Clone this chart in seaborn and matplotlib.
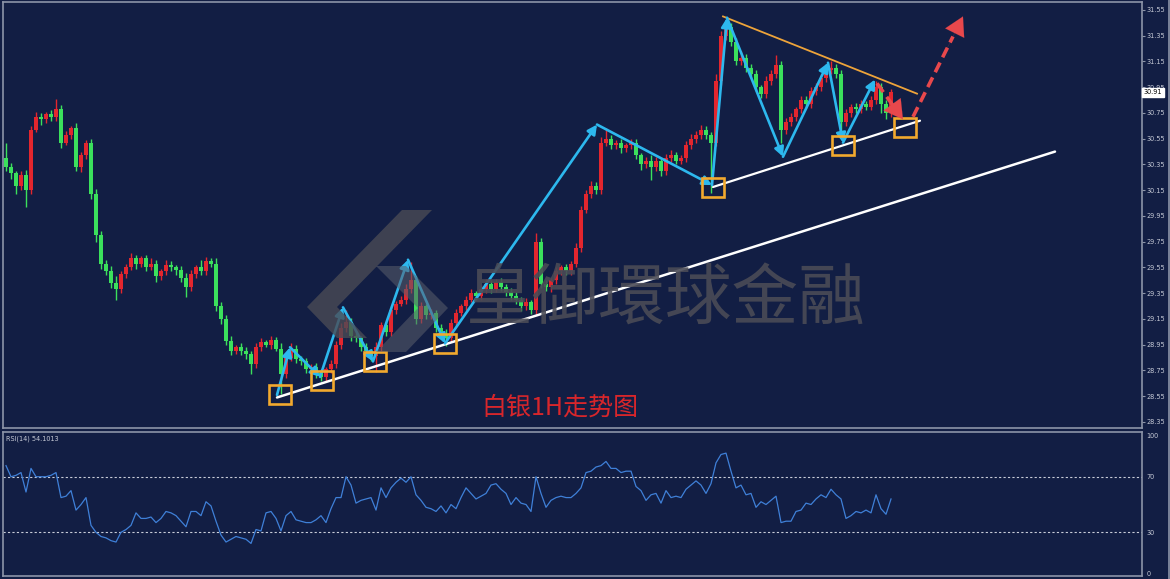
import numpy as np
import seaborn as sns
import matplotlib.pyplot as plt
from matplotlib.patches import Rectangle, Polygon
from matplotlib.lines import Line2D

# ---- data (silver, 1H) ----
first_open = 30.40
closes = [30.33, 30.28, 30.18, 30.27, 30.15, 30.62, 30.72, 30.70, 30.74, 30.72,
          30.78, 30.52, 30.58, 30.63, 30.33, 30.42, 30.52, 30.12, 29.80, 29.58,
          29.52, 29.43, 29.38, 29.50, 29.55, 29.62, 29.58, 29.62, 29.55, 29.58,
          29.48, 29.52, 29.57, 29.55, 29.53, 29.47, 29.40, 29.50, 29.55, 29.52,
          29.60, 29.58, 29.25, 29.15, 28.98, 28.90, 28.93, 28.90, 28.88, 28.80,
          28.93, 28.97, 28.95, 28.99, 28.92, 28.72, 28.85, 28.92, 28.84, 28.82,
          28.76, 28.78, 28.73, 28.70, 28.76, 28.80, 28.95, 29.08, 29.13, 29.02,
          29.00, 28.93, 28.90, 28.86, 28.93, 29.10, 29.05, 29.22, 29.27, 29.30,
          29.38, 29.45, 29.15, 29.25, 29.18, 29.20, 29.08, 29.03, 29.00, 29.12,
          29.20, 29.25, 29.30, 29.35, 29.33, 29.38, 29.42, 29.38, 29.44, 29.40,
          29.36, 29.33, 29.30, 29.25, 29.28, 29.22, 29.75, 29.42, 29.40, 29.45,
          29.52, 29.55, 29.52, 29.58, 29.70, 30.00, 30.12, 30.18, 30.15, 30.52,
          30.55, 30.50, 30.52, 30.48, 30.50, 30.52, 30.42, 30.35, 30.38, 30.33,
          30.38, 30.30, 30.40, 30.42, 30.38, 30.40, 30.50, 30.55, 30.58, 30.62,
          30.58, 30.52, 31.00, 31.35, 31.42, 31.30, 31.15, 31.18, 31.10, 31.05,
          30.95, 30.90, 31.00, 31.05, 31.12, 30.62, 30.68, 30.72, 30.78, 30.85,
          30.82, 30.92, 30.95, 31.02, 31.08, 31.10, 31.05, 30.68, 30.75, 30.80,
          30.78, 30.82, 30.80, 30.85, 30.95, 30.82, 30.75, 30.91]
# wick lengths above / below the body, in cents
wick_up = [12, 3, 2, 3, 4, 3, 4, 3, 2, 3,
           8, 3, 3, 2, 4, 3, 2, 3, 4, 3,
           3, 4, 5, 2, 3, 4, 3, 2, 3, 4,
           3, 2, 4, 3, 2, 3, 4, 3, 2, 6,
           3, 2, 4, 3, 3, 4, 2, 3, 3, 2,
           3, 3, 2, 3, 2, 4, 3, 4, 3, 2,
           3, 2, 3, 3, 2, 3, 3, 4, 9, 3,
           3, 2, 3, 2, 4, 3, 3, 3, 2, 3,
           4, 14, 3, 3, 2, 3, 2, 3, 4, 3,
           3, 2, 3, 3, 2, 3, 4, 3, 2, 3,
           2, 3, 3, 2, 3, 2, 7, 3, 3, 2,
           3, 2, 3, 2, 4, 3, 3, 4, 3, 4,
           8, 3, 2, 3, 2, 3, 3, 2, 3, 4,
           3, 2, 3, 4, 3, 2, 3, 4, 3, 4,
           3, 2, 5, 4, 5, 3, 3, 5, 3, 3,
           3, 2, 4, 3, 8, 3, 3, 3, 2, 3,
           3, 3, 3, 3, 4, 5, 3, 3, 3, 2,
           3, 3, 2, 3, 5, 3, 3, 3]
wick_dn = [3, 4, 6, 3, 13, 3, 2, 4, 3, 3,
           3, 4, 2, 3, 3, 4, 3, 4, 5, 4,
           3, 4, 8, 3, 3, 2, 4, 3, 3, 2,
           4, 3, 3, 3, 4, 3, 8, 3, 3, 3,
           3, 3, 4, 4, 3, 3, 2, 3, 4, 8,
           3, 3, 2, 3, 2, 15, 3, 3, 3, 3,
           3, 3, 4, 3, 3, 3, 3, 3, 3, 4,
           3, 3, 3, 4, 12, 3, 3, 3, 3, 2,
           3, 3, 4, 3, 3, 3, 3, 3, 6, 3,
           3, 3, 3, 2, 3, 3, 3, 3, 2, 3,
           3, 3, 3, 4, 3, 3, 3, 3, 3, 4,
           3, 3, 3, 3, 3, 3, 3, 3, 3, 3,
           3, 3, 3, 4, 3, 3, 3, 4, 3, 10,
           3, 4, 3, 3, 3, 3, 3, 3, 3, 3,
           3, 39, 3, 3, 3, 3, 3, 3, 3, 3,
           3, 3, 3, 3, 3, 10, 3, 3, 3, 3,
           3, 3, 3, 3, 3, 3, 3, 12, 3, 3,
           3, 3, 3, 3, 3, 7, 5, 3]
rsi = [78, 70, 71, 73, 59, 76, 70, 70, 70, 71,
       73, 55, 56, 60, 46, 50, 55, 35, 30, 27,
       26, 24, 23, 30, 32, 35, 44, 40, 40, 41,
       37, 40, 45, 44, 42, 38, 34, 45, 45, 42,
       52, 49, 38, 28, 23, 25, 27, 26, 25, 22,
       32, 31, 44, 45, 40, 31, 42, 45, 39, 38,
       37, 37, 39, 42, 37, 47, 55, 55, 70, 64,
       51, 53, 54, 55, 46, 62, 55, 62, 66, 69,
       66, 70, 57, 53, 48, 47, 45, 49, 44, 50,
       47, 55, 62, 58, 54, 56, 58, 64, 65, 61,
       58, 50, 55, 51, 50, 45, 70, 58, 48, 53,
       55, 56, 55, 55, 58, 62, 73, 74, 77, 78,
       81, 76, 76, 73, 74, 74, 63, 60, 53, 57,
       58, 51, 60, 55, 56, 55, 61, 64, 67, 64,
       58, 65, 80, 86, 87, 74, 62, 64, 57, 58,
       48, 52, 50, 53, 56, 37, 38, 38, 45, 46,
       51, 50, 54, 57, 55, 61, 57, 54, 40, 42,
       45, 44, 46, 44, 57, 47, 43, 54]

price_ticks = [28.35, 28.55, 28.75, 28.95, 29.15, 29.35, 29.55, 29.75, 29.95,
               30.15, 30.35, 30.55, 30.75, 30.95, 31.15, 31.35, 31.55]
rsi_ticks = [0, 30, 70, 100]
rsi_levels = [30, 70]
last_price = 30.91
rsi_label = "RSI(14) 54.1013"
chart_title = "白银1H走势图"
watermark = "皇御環球金融"

# analyst drawings (bar index, price)
zig_bar = [54.2, 56.8, 62.8, 67.4, 73.4, 80.4, 87.8, 118.2, 141.2, 144.2, 155.4, 164.4, 167.4, 173.8]
zig_price = [28.56, 28.93, 28.70, 29.24, 28.82, 29.61, 28.96, 30.66, 30.19, 31.49, 30.41, 31.14, 30.52, 31.01]
box_bar = [54.8, 63.2, 73.8, 87.8, 141.4, 167.4, 179.8]
box_price = [28.56, 28.67, 28.82, 28.96, 30.17, 30.50, 30.64]
support_long = ([54.2, 209.8], [28.54, 30.45])
support_short = ([141.4, 182.8], [30.175, 30.69])
resistance = ([143.4, 182.2], [31.50, 30.90])
red_arrows = [((174.2, 30.98), (179.4, 30.70)), ((181.4, 30.72), (191.4, 31.50))]

BG = "#121e44"
FRAME = "#8c94a8"
TXT = "#c6cad6"
UP = "#e3262e"
DN = "#3be05c"

plt.rcParams["font.family"] = ["DejaVu Sans", "Noto Sans CJK SC"]

W, H = 1170, 579
fig = plt.figure(figsize=(W / 100, H / 100), dpi=100, facecolor=BG)
ax = fig.add_axes([3 / W, 1 - 428 / H, 1139 / W, 426 / H], facecolor=BG)
ax2 = fig.add_axes([3 / W, 1 - 576 / H, 1139 / W, 144 / H], facecolor=BG)


def fig_px(x, y):
    return (x / W, 1 - y / H)


# watermark logo + text (behind everything)
dark = [(307, 307), (402, 210), (432, 210), (337, 307), (367, 338), (337, 338)]
light = [(376, 266), (406, 266), (448, 308), (406, 352), (376, 352), (418, 308)]
fig.add_artist(Polygon([fig_px(*p) for p in dark], closed=True, transform=fig.transFigure,
                       facecolor="#4a4b55", edgecolor="none", alpha=0.8, zorder=1.5))
fig.add_artist(Polygon([fig_px(*p) for p in light], closed=True, transform=fig.transFigure,
                       facecolor="#5a5e6c", edgecolor="none", alpha=0.55, zorder=1.5))
fig.text(*fig_px(666, 301), watermark, family=["Noto Sans CJK SC"], fontsize=48,
         color="#4a4b56", alpha=0.9, ha="center", va="center", zorder=1.6)

# candles
n = len(closes)
x = np.arange(n)
opens = np.array([first_open] + closes[:-1])
cl = np.array(closes)
top = np.maximum(opens, cl)
bot = np.minimum(opens, cl)
highs = top + np.array(wick_up) / 100
lows = bot - np.array(wick_dn) / 100
colors = np.where(cl >= opens, UP, DN)
ax.vlines(x, lows, highs, colors=colors, lw=1.0, zorder=3)
ax.bar(x, np.maximum(top - bot, 0.01), bottom=bot, width=0.72, color=colors, zorder=3, linewidth=0)

# trend lines
ax.plot(*support_long, color="white", lw=1.8, zorder=4, solid_capstyle="round")
ax.plot(*support_short, color="white", lw=1.6, zorder=4, solid_capstyle="round")
ax.plot(*resistance, color="#eea43a", lw=1.3, zorder=4)

# zigzag arrows
for i in range(len(zig_bar) - 1):
    ax.annotate("", xy=(zig_bar[i + 1], zig_price[i + 1]), xytext=(zig_bar[i], zig_price[i]),
                arrowprops=dict(arrowstyle="-|>,head_length=0.55,head_width=0.28", color="#2db8ee",
                                lw=1.9, mutation_scale=10, shrinkA=0, shrinkB=0), zorder=5)

# boxes
for b, p in zip(box_bar, box_price):
    ax.add_patch(Rectangle((b - 2.2, p - 0.074), 4.4, 0.148, fill=False,
                           edgecolor="#f2a92e", lw=1.9, zorder=6))

# red dashed arrows
for (x0, y0), (x1, y1) in red_arrows:
    ax.plot([x0, x0 + (x1 - x0) * 0.8], [y0, y0 + (y1 - y0) * 0.8], color="#e8484c",
            lw=2.6, ls=(0, (3, 1.6)), zorder=6)
    ax.annotate("", xy=(x1, y1), xytext=(x0 + (x1 - x0) * 0.6, y0 + (y1 - y0) * 0.6),
                arrowprops=dict(arrowstyle="-|>,head_length=0.7,head_width=0.4", color="#e8484c",
                                lw=0.1, mutation_scale=19, shrinkA=0, shrinkB=0), zorder=6)

ax.text(110.8, 28.46, chart_title, family=["Noto Sans CJK SC"], color="#d8262b",
        fontsize=18, ha="center", va="center", zorder=6)

ax.set_xlim(-0.6, 227.2)
ax.set_ylim(28.303, 31.612)
ax.yaxis.tick_right()
ax.set_yticks(price_ticks)
ax.set_yticklabels([f"{t:.2f}" for t in price_ticks])
ax.set_xticks([])
ax.tick_params(axis="y", colors=FRAME, labelcolor=TXT, labelsize=4.7, length=2.5, width=0.8, pad=1)
ax.text(1.0015, last_price, f"{last_price:.2f}", transform=ax.get_yaxis_transform(),
        fontsize=4.7, color="black", va="center", ha="left", zorder=10, clip_on=False,
        bbox=dict(boxstyle="square,pad=0.2", facecolor="white", edgecolor="white"))

# RSI panel
sns.lineplot(x=np.arange(len(rsi)), y=rsi, ax=ax2, color="#3f80d8", lw=0.9, zorder=3)
for lv in rsi_levels:
    ax2.axhline(lv, color="#c8ccd8", lw=0.8, ls=(0, (2, 2)), zorder=2)
ax2.set_xlim(-0.6, 227.2)
ax2.set_ylim(-1.44, 102.2)
ax2.yaxis.tick_right()
ax2.set_yticks(rsi_ticks)
ax2.set_yticklabels([str(t) for t in rsi_ticks])
ax2.set_xticks([])
ax2.set_xlabel("")
ax2.set_ylabel("")
ax2.tick_params(axis="y", colors=FRAME, labelcolor=TXT, labelsize=4.7, length=0, pad=3)
ax2.text(0.003, 0.975, rsi_label, transform=ax2.transAxes, fontsize=4.7, color=TXT,
         ha="left", va="top")

for a in (ax, ax2):
    for s in a.spines.values():
        s.set_color(FRAME)
        s.set_linewidth(1.2)

fig.add_artist(Line2D([1168.5 / W, 1168.5 / W], [0, 1], transform=fig.transFigure, color=FRAME, lw=1.2))

fig.savefig("out.png", dpi=100, facecolor=BG)
